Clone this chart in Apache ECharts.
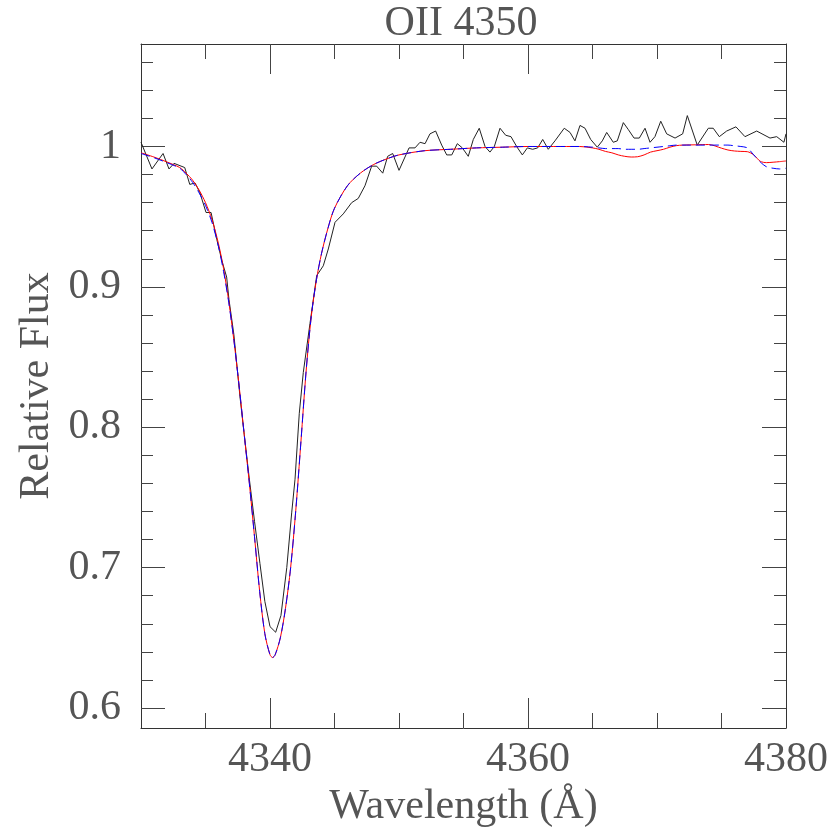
<!DOCTYPE html>
<html>
<head>
<meta charset="utf-8">
<script src="https://cdn.jsdelivr.net/npm/echarts@6/dist/echarts.min.js"></script>
<style>
  html, body { margin: 0; padding: 0; background: #fff; }
  #chart { width: 830px; height: 830px; }
</style>
</head>
<body>
<div id="chart"></div>
<script>
// observed spectrum
const obsWave = [4330.0, 4330.85, 4331.71, 4332.17, 4332.56, 4333.39, 4333.78, 4334.19, 4334.57, 4335.04,
  4335.43, 4335.87, 4336.26, 4336.64, 4336.82, 4337.2, 4337.67, 4338.0, 4338.4, 4338.8,
  4339.22, 4339.6, 4340.0, 4340.44, 4340.85, 4341.3, 4341.68, 4341.94, 4342.27, 4342.58,
  4343.1, 4343.62, 4344.13, 4344.52, 4345.04, 4345.68, 4346.33, 4346.84, 4347.36, 4347.88,
  4348.27, 4348.74, 4349.12, 4349.51, 4350.0, 4350.78, 4351.24, 4351.63, 4352.02, 4352.4,
  4352.84, 4353.31, 4353.7, 4354.09, 4354.52, 4354.91, 4355.37, 4355.76, 4356.22, 4356.67,
  4357.05, 4357.39, 4357.83, 4358.27, 4358.68, 4359.12, 4359.56, 4359.95, 4360.36, 4360.75,
  4361.14, 4361.57, 4362.09, 4362.81, 4363.26, 4363.64, 4364.03, 4364.42, 4364.86, 4365.37,
  4365.76, 4366.1, 4366.61, 4366.92, 4367.39, 4367.78, 4368.22, 4368.63, 4369.07, 4369.46,
  4369.84, 4370.29, 4370.75, 4371.4, 4371.99, 4372.35, 4373.12, 4373.98, 4374.36, 4374.83,
  4375.4, 4376.12, 4376.82, 4377.73, 4378.76, 4379.28, 4379.84, 4380.0];
const obsFlux = [1.003, 0.984, 0.995, 0.984, 0.988, 0.985, 0.973, 0.974, 0.967, 0.953,
  0.953, 0.934, 0.919, 0.907, 0.891, 0.866, 0.822, 0.795, 0.763, 0.733,
  0.703, 0.676, 0.658, 0.654, 0.666, 0.700, 0.739, 0.763, 0.810, 0.839,
  0.874, 0.908, 0.915, 0.927, 0.946, 0.952, 0.960, 0.963, 0.972, 0.986,
  0.986, 0.981, 0.993, 0.995, 0.983, 0.999, 0.999, 1.003, 1.002, 1.009,
  1.011, 1.001, 0.994, 0.994, 1.002, 0.999, 0.993, 1.005, 1.013, 1.000,
  0.996, 1.000, 1.013, 1.008, 1.007, 1.000, 0.994, 0.999, 0.998, 0.999,
  1.005, 0.998, 1.004, 1.013, 1.010, 1.004, 1.015, 1.013, 1.005, 0.9995,
  1.004, 1.010, 1.003, 1.004, 1.017, 1.012, 1.006, 1.006, 1.013, 1.003,
  1.007, 1.018, 1.009, 1.006, 1.009, 1.022, 1.001, 1.013, 1.013, 1.007,
  1.011, 1.014, 1.007, 1.011, 1.006, 1.007, 1.003, 1.009];

// model spectra
const modelWave = [4330, 4331, 4332, 4333, 4333.5, 4334, 4334.5, 4335, 4335.5, 4336,
  4336.4, 4336.8, 4337.2, 4337.6, 4338, 4338.4, 4338.8, 4339.2, 4339.6, 4340,
  4340.2, 4340.4, 4340.8, 4341.2, 4341.6, 4342, 4342.4, 4342.8, 4343.2, 4343.6,
  4344, 4344.5, 4345, 4346, 4347, 4348, 4349, 4350, 4352, 4354,
  4356, 4358, 4360, 4362, 4364, 4365, 4365.5, 4366, 4366.5, 4367,
  4367.5, 4368, 4368.5, 4369, 4369.5, 4370, 4370.5, 4371, 4371.5, 4372,
  4373, 4374, 4375, 4375.5, 4376, 4376.5, 4377, 4377.5, 4378, 4378.5,
  4379, 4379.5, 4380];
const redFlux = [0.9955, 0.9925, 0.989, 0.985, 0.981, 0.976, 0.969, 0.960, 0.948, 0.931,
  0.913, 0.890, 0.862, 0.830, 0.795, 0.760, 0.722, 0.683, 0.653, 0.638,
  0.636, 0.638, 0.650, 0.671, 0.700, 0.741, 0.790, 0.840, 0.879, 0.905,
  0.924, 0.942, 0.956, 0.972, 0.981, 0.987, 0.991, 0.994, 0.997, 0.998,
  0.999, 0.9995, 1.000, 1.000, 1.000, 0.999, 0.998, 0.9965, 0.9955, 0.994,
  0.993, 0.9925, 0.9927, 0.994, 0.996, 0.997, 0.998, 0.9995, 1.0006, 1.001,
  1.0012, 1.0014, 0.9988, 0.9975, 0.9968, 0.9965, 0.9963, 0.994, 0.9895, 0.9885,
  0.9888, 0.9892, 0.9897];
const blueFlux = [0.995, 0.992, 0.9885, 0.9845, 0.980, 0.9745, 0.967, 0.958, 0.946, 0.929,
  0.911, 0.889, 0.862, 0.830, 0.795, 0.760, 0.722, 0.683, 0.653, 0.638,
  0.636, 0.638, 0.650, 0.671, 0.700, 0.741, 0.790, 0.840, 0.879, 0.905,
  0.924, 0.942, 0.956, 0.972, 0.981, 0.987, 0.991, 0.994, 0.997, 0.998,
  0.999, 0.9995, 1.000, 1.000, 1.000, 0.9995, 0.999, 0.9985, 0.9985, 0.9985,
  0.998, 0.998, 0.998, 0.9985, 0.999, 0.9995, 1.000, 1.0005, 1.001, 1.001,
  1.001, 1.001, 1.001, 1.001, 1.0005, 1.000, 0.999, 0.994, 0.989, 0.9855,
  0.9845, 0.984, 0.9845];

const xMajor = [4340, 4360];
const xMinor = [4335, 4345, 4350, 4355, 4365, 4370, 4375];
const xLabels = [4340, 4360, 4380];
const yMajor = [0.6, 0.7, 0.8, 0.9, 1.0];
const yMinor = [0.62, 0.64, 0.66, 0.68, 0.72, 0.74, 0.76, 0.78, 0.82, 0.84, 0.86, 0.88,
  0.92, 0.94, 0.96, 0.98, 1.02, 1.04, 1.06];

const FONT = '"Liberation Serif", serif';
const INK = '#555';

const zip = (xs, ys) => xs.map((x, i) => [x, ys[i]]);

const xBase = { type: 'value', min: 4330, max: 4380, gridIndex: 0, splitLine: { show: false } };
const yBase = { type: 'value', min: 0.5858, max: 1.073, gridIndex: 0, splitLine: { show: false } };

const tickAxis = (base, position, values, length, line) => Object.assign({}, base, {
  position: position,
  axisLine: { show: line, lineStyle: { color: '#333', width: 1 } },
  axisTick: { show: true, inside: true, length: length, customValues: values, lineStyle: { color: '#444', width: 1 } },
  axisLabel: { show: false }
});

const xMain = tickAxis(xBase, 'bottom', xMajor, 30, true);
xMain.axisLabel = {
  show: true, customValues: xLabels, margin: 11,
  color: INK, fontFamily: FONT, fontSize: 42,
  formatter: v => String(v)
};
xMain.name = 'Wavelength (Å)';
xMain.nameLocation = 'middle';
xMain.nameGap = 58;
xMain.nameTextStyle = { color: INK, fontFamily: FONT, fontSize: 42 };

const yMain = tickAxis(yBase, 'left', yMajor, 24, true);
yMain.axisLabel = {
  show: true, customValues: yMajor, margin: 20,
  color: INK, fontFamily: FONT, fontSize: 42,
  formatter: v => (Math.abs(v - 1) < 1e-9 ? '1' : v.toFixed(1))
};
yMain.name = 'Relative Flux';
yMain.nameLocation = 'middle';
yMain.nameGap = 82;
yMain.nameTextStyle = { color: INK, fontFamily: FONT, fontSize: 42 };

const chart = echarts.init(document.getElementById('chart'));
chart.setOption({
  backgroundColor: '#fff',
  animation: false,
  title: {
    text: 'OII 4350',
    left: 456, top: -2, textAlign: 'center',
    textStyle: { color: INK, fontFamily: FONT, fontSize: 42, fontWeight: 'normal' }
  },
  grid: { left: 141, right: 44, top: 44, bottom: 102, outerBoundsMode: 'none', show: false },
  xAxis: [
    xMain,
    tickAxis(xBase, 'bottom', xMinor, 15, false),
    tickAxis(xBase, 'top', xMajor, 30, true),
    tickAxis(xBase, 'top', xMinor, 15, false)
  ],
  yAxis: [
    yMain,
    tickAxis(yBase, 'left', yMinor, 12, false),
    tickAxis(yBase, 'right', yMajor, 24, true),
    tickAxis(yBase, 'right', yMinor, 12, false)
  ],
  series: [
    {
      name: 'observed', type: 'line', xAxisIndex: 0, yAxisIndex: 0,
      data: zip(obsWave, obsFlux), symbol: 'none',
      lineStyle: { color: '#222', width: 1 }
    },
    {
      name: 'model red', type: 'line', xAxisIndex: 0, yAxisIndex: 0,
      data: zip(modelWave, redFlux), symbol: 'none', smooth: 0.3,
      lineStyle: { color: '#ff0000', width: 1 }
    },
    {
      name: 'model blue', type: 'line', xAxisIndex: 0, yAxisIndex: 0,
      data: zip(modelWave, blueFlux), symbol: 'none', smooth: 0.3,
      lineStyle: { color: '#0000ff', width: 1, type: [9, 5] }
    }
  ]
});
</script>
</body>
</html>
